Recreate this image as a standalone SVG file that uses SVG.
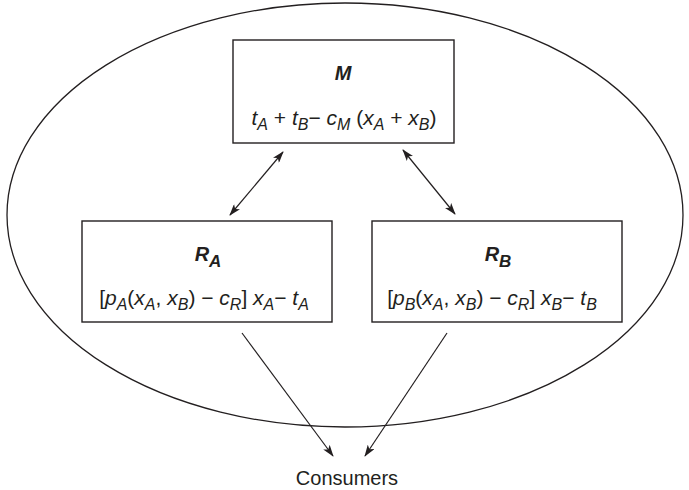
<svg xmlns="http://www.w3.org/2000/svg" width="689" height="490" viewBox="0 0 689 490">
<defs>
<style>
.box{fill:#fff;stroke:#231f20;stroke-width:1.4}
.ell{fill:none;stroke:#231f20;stroke-width:1.3}
.con{stroke:#231f20;stroke-width:1.2;fill:none}
text{font-family:"Liberation Sans",Arial,sans-serif;fill:#231f20}
.f{font-size:21px;text-anchor:middle}
.lbl{font-size:20px;font-weight:bold;font-style:italic;text-anchor:middle}
.ls{font-size:17px}
.i{font-style:italic}
.s{font-size:16px;font-style:italic}
.c{font-size:20px;text-anchor:middle}
</style>
<marker id="ah" viewBox="0 0 12 8" refX="11" refY="4" markerWidth="12" markerHeight="8" markerUnits="userSpaceOnUse" orient="auto-start-reverse">
<path d="M0,0 L12,4 L0,8 L3,4 z" fill="#231f20"/>
</marker>
</defs>
<rect width="689" height="490" fill="#fff"/>
<ellipse class="ell" cx="345" cy="215" rx="338" ry="212"/>
<g id="connectors">
<line class="con" x1="283" y1="152" x2="230" y2="215" marker-start="url(#ah)" marker-end="url(#ah)"/>
<line class="con" x1="403" y1="150" x2="455" y2="214" marker-start="url(#ah)" marker-end="url(#ah)"/>
<line class="con" x1="242" y1="333" x2="333" y2="456" marker-end="url(#ah)"/>
<line class="con" x1="447" y1="333" x2="365" y2="456" marker-end="url(#ah)"/>
</g>
<g id="M">
<rect class="box" x="233" y="40" width="221" height="103"/>
<text class="lbl" x="343" y="80">M</text>
<text class="f" x="344" y="125"><tspan class="i">t</tspan><tspan class="s" dy="5">A</tspan><tspan dy="-5"> + </tspan><tspan class="i">t</tspan><tspan class="s" dy="5">B</tspan><tspan dy="-5">− </tspan><tspan class="i">c</tspan><tspan class="s" dy="5">M</tspan><tspan dy="-5"> (</tspan><tspan class="i">x</tspan><tspan class="s" dy="5">A</tspan><tspan dy="-5"> + </tspan><tspan class="i">x</tspan><tspan class="s" dy="5">B</tspan><tspan dy="-5">)</tspan></text>
</g>
<g id="RA">
<rect class="box" x="82" y="221" width="250" height="101"/>
<text class="lbl" x="208" y="261"><tspan>R</tspan><tspan class="ls" dy="6">A</tspan></text>
<text class="f" x="204" y="305"><tspan>[</tspan><tspan class="i">p</tspan><tspan class="s" dy="5">A</tspan><tspan dy="-5">(</tspan><tspan class="i">x</tspan><tspan class="s" dy="5">A</tspan><tspan dy="-5">, </tspan><tspan class="i">x</tspan><tspan class="s" dy="5">B</tspan><tspan dy="-5">) − </tspan><tspan class="i">c</tspan><tspan class="s" dy="5">R</tspan><tspan dy="-5">] </tspan><tspan class="i">x</tspan><tspan class="s" dy="5">A</tspan><tspan dy="-5">− </tspan><tspan class="i">t</tspan><tspan class="s" dy="5">A</tspan></text>
</g>
<g id="RB">
<rect class="box" x="372" y="221" width="250" height="101"/>
<text class="lbl" x="498" y="261"><tspan>R</tspan><tspan class="ls" dy="6">B</tspan></text>
<text class="f" x="492" y="305"><tspan>[</tspan><tspan class="i">p</tspan><tspan class="s" dy="5">B</tspan><tspan dy="-5">(</tspan><tspan class="i">x</tspan><tspan class="s" dy="5">A</tspan><tspan dy="-5">, </tspan><tspan class="i">x</tspan><tspan class="s" dy="5">B</tspan><tspan dy="-5">) − </tspan><tspan class="i">c</tspan><tspan class="s" dy="5">R</tspan><tspan dy="-5">] </tspan><tspan class="i">x</tspan><tspan class="s" dy="5">B</tspan><tspan dy="-5">− </tspan><tspan class="i">t</tspan><tspan class="s" dy="5">B</tspan></text>
</g>
<g id="Consumers">
<text class="c" x="347" y="485">Consumers</text>
</g>
</svg>
